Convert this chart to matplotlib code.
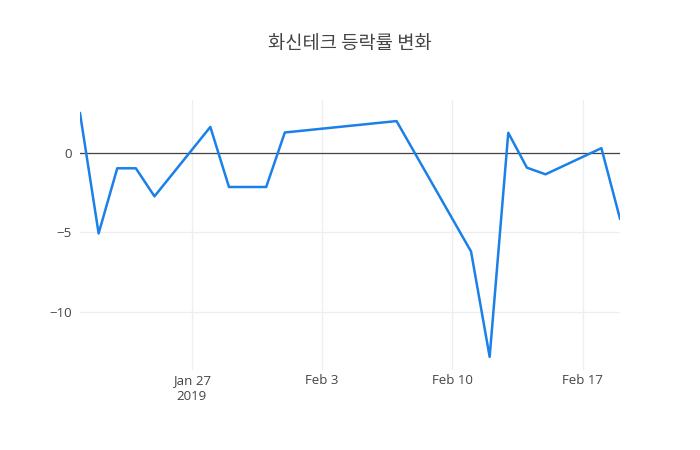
import numpy as np
import pandas as pd
import matplotlib
matplotlib.use("Agg")
import matplotlib.pyplot as plt

plt.rcParams['font.family'] = ['Open Sans', 'Noto Sans CJK KR', 'DejaVu Sans']

dates = ["2019-01-21", "2019-01-22", "2019-01-23", "2019-01-24", "2019-01-25",
         "2019-01-28", "2019-01-29", "2019-01-30", "2019-01-31", "2019-02-01",
         "2019-02-07", "2019-02-11", "2019-02-12", "2019-02-13", "2019-02-14",
         "2019-02-15", "2019-02-18", "2019-02-19"]
rates = [2.53, -5.06, -0.95, -0.95, -2.72,
         1.66, -2.13, -2.13, -2.13, 1.31,
         2.03, -6.2, -12.85, 1.29, -0.91,
         -1.33, 0.32, -4.13]
tick_dates = ["2019-01-27", "2019-02-03", "2019-02-10", "2019-02-17"]
tick_labels = ["Jan 27\n2019", "Feb 3", "Feb 10", "Feb 17"]
y_ticks = [0, -5, -10]
y_labels = ["0", "\u22125", "\u221210"]

x = pd.to_datetime(dates)
fig = plt.figure(figsize=(7, 4.5), dpi=100)
ax = fig.add_axes([80/700, 80/450, 540/700, 270/450])

ax.plot(x, rates, color='#1b80e8', lw=1.8, zorder=3)
ax.axhline(0, color='#444444', lw=0.9, zorder=2)

ax.set_xlim(x[0], x[-1])
ax.set_ylim(-13.68, 3.36)
ax.set_xticks(pd.to_datetime(tick_dates))
ax.set_xticklabels(tick_labels, linespacing=1.25)
ax.set_yticks(y_ticks)
ax.set_yticklabels(y_labels)
ax.grid(True, color='#eeeeee', lw=0.9, zorder=0)
ax.tick_params(length=0, labelsize=9.5, colors='#444444', pad=3)
ax.tick_params(axis='y', pad=6)
for s in ax.spines.values():
    s.set_visible(False)

fig.text(0.5, 1 - 44/450, "화신테크 등락률 변화", ha='center', va='center',
         fontsize=13.5, color='#444444', family=['Noto Sans CJK KR', 'DejaVu Sans'])

fig.savefig("out.png", dpi=100)
